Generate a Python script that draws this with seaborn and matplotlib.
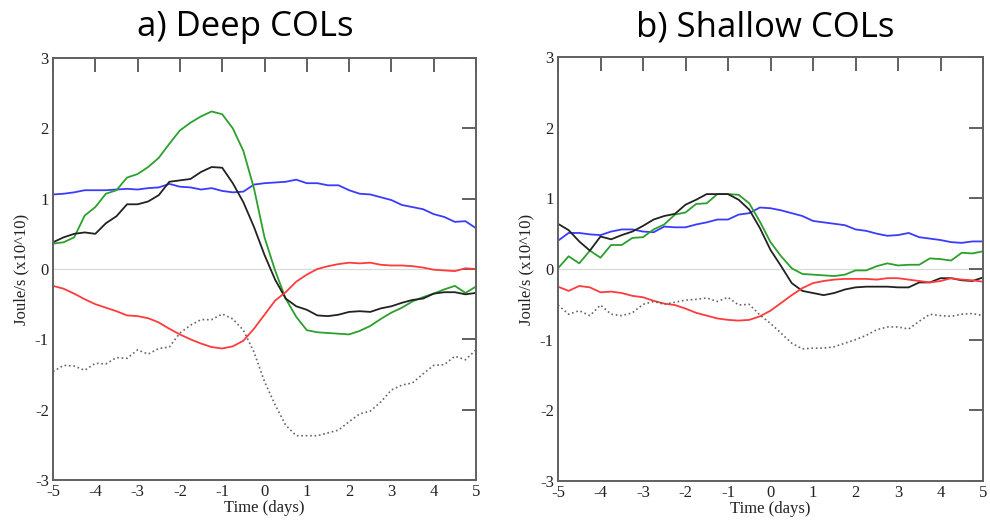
import numpy as np
import pandas as pd
import matplotlib
matplotlib.use("Agg")
import matplotlib.pyplot as plt
import seaborn as sns

# ---------------- data ----------------
time_days = np.arange(-5, 5.001, 0.25)

deep_blue = [1.06, 1.07, 1.09, 1.12, 1.12, 1.12, 1.13, 1.14, 1.13, 1.15,
             1.16, 1.21, 1.17, 1.16, 1.13, 1.15, 1.11, 1.09, 1.10, 1.20,
             1.22, 1.23, 1.24, 1.27, 1.22, 1.22, 1.19, 1.19, 1.12, 1.07,
             1.06, 1.02, 0.98, 0.91, 0.88, 0.85, 0.78, 0.74, 0.67, 0.68,
             0.58]
deep_green = [0.36, 0.38, 0.45, 0.76, 0.88, 1.07, 1.12, 1.30, 1.35, 1.45,
              1.58, 1.78, 1.97, 2.08, 2.17, 2.24, 2.20, 2.00, 1.68, 1.15,
              0.45, -0.02, -0.42, -0.68, -0.87, -0.90, -0.91, -0.92, -0.93, -0.88,
              -0.81, -0.71, -0.62, -0.55, -0.46, -0.40, -0.35, -0.29, -0.24, -0.34,
              -0.25]
deep_black = [0.38, 0.45, 0.50, 0.52, 0.50, 0.65, 0.75, 0.92, 0.92, 0.96,
              1.05, 1.24, 1.26, 1.28, 1.38, 1.45, 1.44, 1.22, 0.95, 0.60,
              0.20, -0.15, -0.42, -0.53, -0.58, -0.66, -0.67, -0.65, -0.61, -0.60,
              -0.61, -0.56, -0.53, -0.48, -0.44, -0.42, -0.35, -0.33, -0.33, -0.36,
              -0.34]
deep_red = [-0.24, -0.28, -0.35, -0.43, -0.50, -0.55, -0.60, -0.66, -0.67, -0.70,
            -0.76, -0.85, -0.93, -1.00, -1.06, -1.11, -1.13, -1.10, -1.02, -0.85,
            -0.65, -0.45, -0.33, -0.18, -0.08, 0.00, 0.04, 0.07, 0.09, 0.08,
            0.09, 0.06, 0.05, 0.05, 0.04, 0.02, -0.01, -0.02, -0.03, 0.01,
            0.00]
deep_dotted = [-1.46, -1.37, -1.38, -1.44, -1.34, -1.35, -1.26, -1.27, -1.15, -1.21,
               -1.13, -1.11, -0.91, -0.80, -0.72, -0.72, -0.64, -0.71, -0.87, -1.18,
               -1.60, -1.93, -2.22, -2.37, -2.37, -2.37, -2.33, -2.29, -2.17, -2.06,
               -2.02, -1.89, -1.72, -1.65, -1.62, -1.49, -1.37, -1.36, -1.24, -1.29,
               -1.15]

shallow_blue = [0.40, 0.51, 0.51, 0.49, 0.48, 0.53, 0.56, 0.56, 0.53, 0.52,
                0.60, 0.59, 0.59, 0.63, 0.66, 0.70, 0.70, 0.77, 0.79, 0.87,
                0.86, 0.83, 0.79, 0.75, 0.68, 0.66, 0.64, 0.62, 0.56, 0.54,
                0.50, 0.47, 0.48, 0.51, 0.45, 0.43, 0.41, 0.38, 0.37, 0.39,
                0.39]
shallow_green = [0.01, 0.18, 0.08, 0.26, 0.16, 0.34, 0.34, 0.44, 0.45, 0.56,
                 0.63, 0.77, 0.80, 0.92, 0.93, 1.06, 1.06, 1.05, 0.93, 0.67,
                 0.38, 0.18, 0.01, -0.07, -0.08, -0.09, -0.10, -0.08, -0.02, -0.02,
                 0.04, 0.08, 0.05, 0.06, 0.06, 0.15, 0.14, 0.12, 0.23, 0.22,
                 0.25]
shallow_black = [0.64, 0.55, 0.39, 0.26, 0.46, 0.42, 0.48, 0.53, 0.61, 0.70,
                 0.75, 0.78, 0.91, 0.98, 1.06, 1.06, 1.06, 0.98, 0.84, 0.58,
                 0.27, 0.04, -0.20, -0.31, -0.34, -0.37, -0.34, -0.29, -0.26, -0.25,
                 -0.25, -0.25, -0.26, -0.26, -0.19, -0.19, -0.13, -0.13, -0.16, -0.17,
                 -0.12]
shallow_red = [-0.25, -0.31, -0.24, -0.26, -0.33, -0.32, -0.34, -0.38, -0.40, -0.45,
               -0.49, -0.51, -0.56, -0.62, -0.66, -0.70, -0.72, -0.73, -0.72, -0.67,
               -0.59, -0.48, -0.37, -0.27, -0.20, -0.17, -0.15, -0.14, -0.14, -0.14,
               -0.15, -0.13, -0.13, -0.15, -0.17, -0.19, -0.17, -0.13, -0.15, -0.16,
               -0.18]
shallow_dotted = [-0.51, -0.64, -0.59, -0.66, -0.51, -0.64, -0.66, -0.62, -0.50, -0.46,
                  -0.50, -0.47, -0.44, -0.43, -0.41, -0.46, -0.40, -0.51, -0.50, -0.65,
                  -0.77, -0.91, -1.05, -1.13, -1.12, -1.12, -1.10, -1.05, -1.00, -0.94,
                  -0.86, -0.82, -0.82, -0.85, -0.74, -0.64, -0.66, -0.67, -0.64, -0.63,
                  -0.66]

panel_titles = ["a) Deep COLs", "b) Shallow COLs"]
x_ticks = [-5, -4, -3, -2, -1, 0, 1, 2, 3, 4, 5]
y_ticks = [-3, -2, -1, 0, 1, 2, 3]
x_label = "Time (days)"
y_label = "Joule/s (x10^10)"

series_styles = {
    "blue": dict(color="#3b3bff", ls="-"),
    "green": dict(color="#2ca02c", ls="-"),
    "black": dict(color="#222222", ls="-"),
    "red": dict(color="#ff3b3b", ls="-"),
    "dotted": dict(color="#666666", ls=":"),
}

panels = [
    {"blue": deep_blue, "green": deep_green, "black": deep_black,
     "red": deep_red, "dotted": deep_dotted},
    {"blue": shallow_blue, "green": shallow_green, "black": shallow_black,
     "red": shallow_red, "dotted": shallow_dotted},
]

# ---------------- figure ----------------
sns.set_theme(style="white")
plt.rcParams["font.family"] = ["Liberation Serif", "DejaVu Serif"]

fig = plt.figure(figsize=(9.9, 5.26), dpi=100)
axes_rects = [
    [53 / 990, 46 / 526, 423 / 990, 422 / 526],
    [558 / 990, 45 / 526, 425 / 990, 424 / 526],
]
title_x = [245 / 990, 765 / 990]

spine_color = "#606060"
for i, (rect, data) in enumerate(zip(axes_rects, panels)):
    ax = fig.add_axes(rect)
    ax.axhline(0, color="#d8d8d8", lw=0.8, zorder=0)
    for name, vals in data.items():
        st = series_styles[name]
        df = pd.DataFrame({"t": time_days, "v": vals})
        sns.lineplot(data=df, x="t", y="v", ax=ax, color=st["color"],
                     linestyle=st["ls"], lw=1.3 if name != "dotted" else 1.2,
                     estimator=None, sort=False)
    ax.set_xlim(-5, 5)
    ax.set_ylim(-3, 3)
    ax.set_xticks(x_ticks)
    ax.set_yticks(y_ticks)
    ax.set_xticklabels([str(t) for t in x_ticks])
    ax.set_yticklabels([str(t) for t in y_ticks])
    ax.tick_params(direction="in", length=10, width=1.4, color=spine_color,
                   top=True, right=True, labelsize=12, pad=3,
                   labelcolor="#222222")
    for sp in ax.spines.values():
        sp.set_color(spine_color)
        sp.set_linewidth(1.4)
    ax.set_xlabel(x_label, fontsize=12, labelpad=0, color="#222222")
    ax.set_ylabel(y_label, fontsize=12, labelpad=4, color="#222222")
    fig.text(title_x[i], 1 - 27 / 526, panel_titles[i], ha="center",
             va="center", fontsize=25, color="black",
             family=["Open Sans", "DejaVu Sans"])

fig.savefig("out.png", dpi=100)
